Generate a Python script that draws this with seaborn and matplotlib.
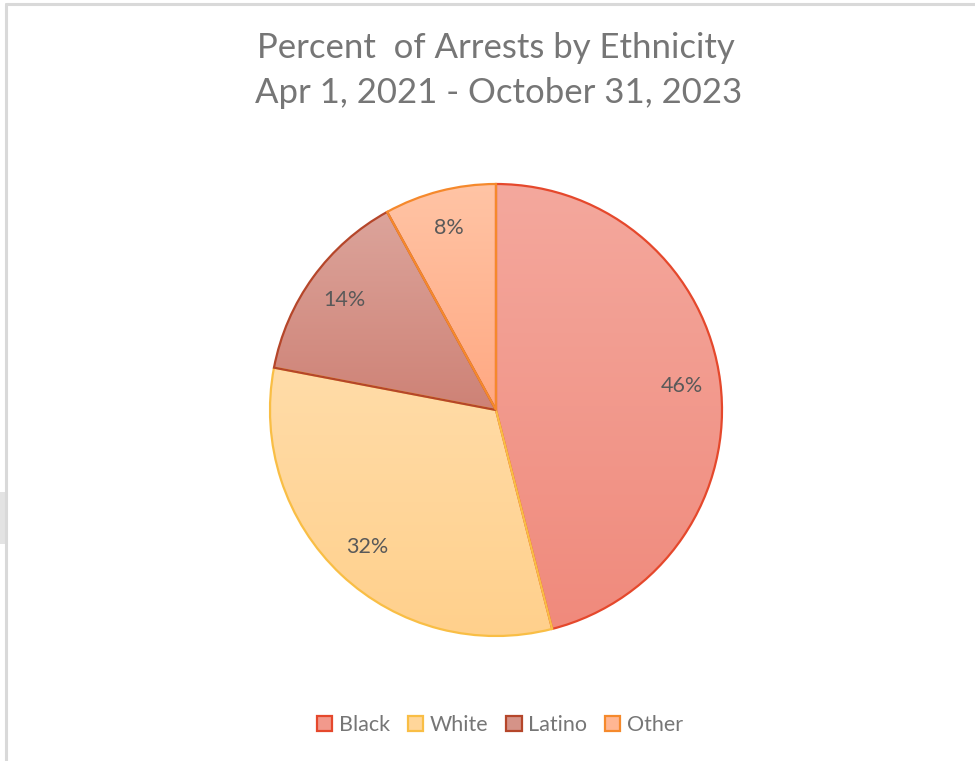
import numpy as np
import matplotlib
matplotlib.use("Agg")
import matplotlib.pyplot as plt
from matplotlib.colors import LinearSegmentedColormap
from matplotlib.patches import Patch
from matplotlib.lines import Line2D
import seaborn as sns

# Share of arrests by ethnicity (percent)
groups = ["Black", "White", "Latino", "Other"]
shares = [46, 32, 14, 8]

# Fill gradients (top -> bottom) and outline colours per slice
fill_top = ["#F4A89D", "#FFDCA8", "#DCA49B", "#FFC4A5"]
fill_bottom = ["#F08A7C", "#FFD08C", "#CE8276", "#FFA882"]
edge_cols = ["#E5482C", "#F9BE45", "#B5462A", "#F5892C"]

title_lines = ["Percent  of Arrests by Ethnicity", "Apr 1, 2021 - October 31, 2023"]

sns.set_theme(style="white")
plt.rcParams["font.family"] = ["Lato", "DejaVu Sans"]

W, H = 975, 761
fig = plt.figure(figsize=(W / 100, H / 100), dpi=100)
fig.patch.set_facecolor("white")

# Light frame along the top and left edges
fig.add_artist(Line2D([6 / W, 6 / W], [0, 1 - 4 / H], transform=fig.transFigure,
                      color="#D9D9D9", lw=2.2))
fig.add_artist(Line2D([6 / W, 1], [1 - 4 / H, 1 - 4 / H], transform=fig.transFigure,
                      color="#D9D9D9", lw=2.2))
fig.add_artist(plt.Rectangle((0, (H - 544) / H), 5 / W, 52 / H, transform=fig.transFigure,
                             facecolor="#E3E3E3", edgecolor="none"))

# Pie area: centre (496, 410) px, radius 226 px (with a small margin for the outline)
cx, cy, r = 496, 410, 226
pad = 1.03
ax = fig.add_axes([(cx - r * pad) / W, (H - cy - r * pad) / H,
                   2 * r * pad / W, 2 * r * pad / H])

wedges, texts, autotexts = ax.pie(
    shares,
    startangle=90,
    counterclock=False,
    autopct="%1.0f%%",
    pctdistance=0.83,
    wedgeprops=dict(linewidth=1.6),
    textprops=dict(color="#595959", fontsize=15.5),
)

grad = np.linspace(0, 1, 256).reshape(-1, 1)
for w, top, bot, ec in zip(wedges, fill_top, fill_bottom, edge_cols):
    verts = w.get_patch_transform().transform(w.get_path().vertices)
    x0, y0 = verts.min(axis=0)
    x1, y1 = verts.max(axis=0)
    cmap = LinearSegmentedColormap.from_list("g", [top, bot])
    im = ax.imshow(grad, cmap=cmap, extent=(x0, x1, y0, y1), aspect="auto",
                   origin="upper", zorder=0.5, interpolation="bilinear")
    im.set_clip_path(w)
    w.set_facecolor("none")
    w.set_edgecolor(ec)
    w.set_zorder(1)
for t in autotexts:
    t.set_zorder(3)

ax.set_xlim(-pad, pad)
ax.set_ylim(-pad, pad)
ax.set_aspect("equal")
ax.axis("off")

# Title
fig.text(496 / W, 1 - 48 / H, title_lines[0], ha="center", va="center",
         fontsize=25, color="#767676")
fig.text(499 / W, 1 - 93 / H, title_lines[1], ha="center", va="center",
         fontsize=25, color="#767676")

# Legend
handles = [Patch(facecolor=LinearSegmentedColormap.from_list("m", [t, b])(0.5),
                 edgecolor=e, linewidth=1.6, label=g)
           for g, t, b, e in zip(groups, fill_top, fill_bottom, edge_cols)]
fig.legend(handles=handles, loc="center", bbox_to_anchor=(500 / W, 1 - 725 / H),
           ncol=4, frameon=False, fontsize=15.5, handlelength=0.7, handleheight=0.7,
           handletextpad=0.3, columnspacing=0.85, labelcolor="#767676")

fig.savefig("out.png", dpi=100, facecolor="white")
